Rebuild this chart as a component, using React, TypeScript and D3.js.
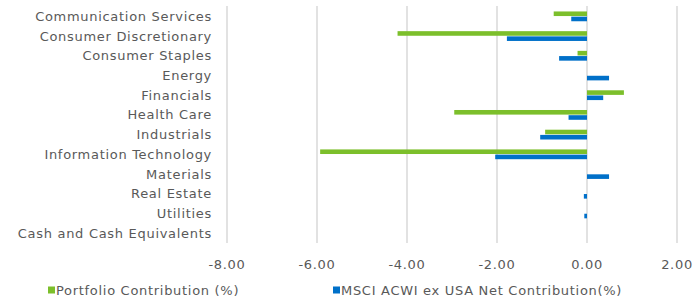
import * as d3 from 'd3'

const categories = [
  'Communication Services',
  'Consumer Discretionary',
  'Consumer Staples',
  'Energy',
  'Financials',
  'Health Care',
  'Industrials',
  'Information Technology',
  'Materials',
  'Real Estate',
  'Utilities',
  'Cash and Cash Equivalents',
]

const portfolio = [-0.74, -4.21, -0.21, 0.0, 0.82, -2.95, -0.93, -5.93, 0.0, 0.0, 0.0, 0.0]
const benchmark = [-0.35, -1.78, -0.62, 0.49, 0.36, -0.41, -1.04, -2.04, 0.49, -0.07, -0.06, 0.0]

const ticks = [-8, -6, -4, -2, 0, 2]

const seriesNames = ['Portfolio Contribution (%)', 'MSCI ACWI ex USA Net Contribution(%)']
const COLORS = ['#7cbf2b', '#0070c9']

export default function App() {
  const width = 700
  const height = 298

  const x = d3.scaleLinear().domain([-8, 2]).range([227, 677])
  const y = d3.scaleBand().domain(categories).range([6.5, 243])
  const barH = 4.6
  const series = [portfolio, benchmark]

  const font = 'DejaVu Sans'
  const textColor = '#595959'

  return (
    <svg
      width={width}
      height={height}
      viewBox={`0 0 ${width} ${height}`}
      style={{position: 'absolute', left: 0, top: 0, background: '#fff'}}
      fontFamily={font}
      fontSize={13}
      letterSpacing={0.7}
      fill={textColor}
    >
      {ticks.map(t => (
        <line
          key={t}
          x1={x(t)}
          x2={x(t)}
          y1={6}
          y2={243}
          stroke={'#d9d9d9'}
          strokeWidth={1.5}
        />
      ))}
      {series.map((values, si) =>
        values.map((v, i) => {
          const yc = (y(categories[i]) ?? 0) + y.bandwidth() / 2
          const x0 = x(Math.min(0, v))
          const x1 = x(Math.max(0, v))
          return (
            <rect
              key={`${si}-${i}`}
              x={x0}
              y={si === 0 ? yc - barH - 0.3 : yc + 0.3}
              width={x1 - x0}
              height={barH}
              fill={COLORS[si]}
            />
          )
        })
      )}
      {categories.map(c => (
        <text
          key={c}
          x={212}
          y={(y(c) ?? 0) + y.bandwidth() / 2}
          textAnchor={'end'}
          dominantBaseline={'central'}
        >
          {c}
        </text>
      ))}
      {ticks.map(t => (
        <text key={t} x={x(t)} y={264} textAnchor={'middle'} dominantBaseline={'central'}>
          {t.toFixed(2)}
        </text>
      ))}
      <g>
        <rect x={48} y={286.5} width={7} height={7} fill={COLORS[0]} />
        <text x={56} y={290} dominantBaseline={'central'}>{seriesNames[0]}</text>
        <rect x={333} y={286.5} width={7} height={7} fill={COLORS[1]} />
        <text x={341} y={290} dominantBaseline={'central'}>{seriesNames[1]}</text>
      </g>
    </svg>
  )
}
